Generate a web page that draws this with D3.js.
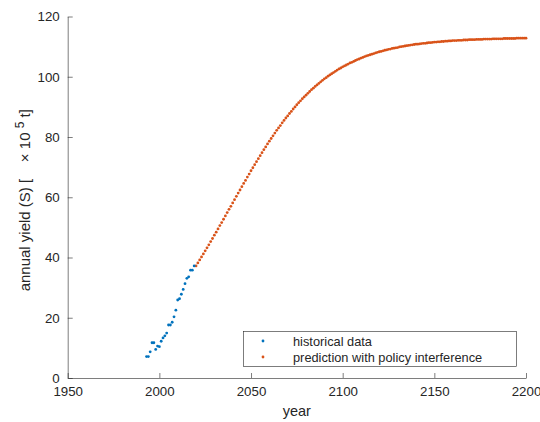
<!DOCTYPE html>
<html>
<head>
<meta charset="utf-8">
<script src="https://cdn.jsdelivr.net/npm/d3@7/dist/d3.min.js"></script>
<style>
  body { margin: 0; background: #fff; }
  svg text { font-family: "Liberation Sans", Arial, sans-serif; fill: #262626; }
</style>
</head>
<body>
<div id="chart"></div>
<script>
'use strict';

// historical yield, one value per year from 1993
var histStart = 1993;
var histValues = [7.1, 7.1, 8.7, 11.7, 11.7, 9.5, 10.6, 10.4, 12.2, 13.3,
  14.0, 14.9, 17.6, 17.6, 18.5, 20.3, 22.5, 25.9, 26.3, 27.8,
  29.4, 31.3, 33.1, 33.6, 35.8, 35.8, 37.2];

// prediction with policy interference, one value per year from 2020
var predStart = 2020;
var predValues = [37.2, 38.2, 39.2, 40.2, 41.2, 42.2, 43.2, 44.2, 45.3, 46.3,
  47.4, 48.4, 49.5, 50.6, 51.6, 52.7, 53.8, 54.9, 56.0, 57.0,
  58.1, 59.2, 60.3, 61.4, 62.4, 63.5, 64.6, 65.6, 66.7, 67.7,
  68.8, 69.8, 70.8, 71.8, 72.8, 73.8, 74.8, 75.8, 76.7, 77.7,
  78.6, 79.5, 80.4, 81.3, 82.2, 83.0, 83.8, 84.7, 85.5, 86.3,
  87.0, 87.8, 88.5, 89.3, 90.0, 90.7, 91.4, 92.0, 92.7, 93.3,
  93.9, 94.5, 95.1, 95.7, 96.2, 96.8, 97.3, 97.8, 98.3, 98.8,
  99.3, 99.7, 100.2, 100.6, 101.0, 101.4, 101.8, 102.2, 102.6, 102.9,
  103.3, 103.6, 103.9, 104.2, 104.6, 104.8, 105.1, 105.4, 105.7, 105.9,
  106.2, 106.4, 106.7, 106.9, 107.1, 107.3, 107.5, 107.7, 107.9, 108.1,
  108.3, 108.4, 108.6, 108.8, 108.9, 109.1, 109.2, 109.4, 109.5, 109.6,
  109.7, 109.9, 110.0, 110.1, 110.2, 110.3, 110.4, 110.5, 110.6, 110.7,
  110.8, 110.8, 110.9, 111.0, 111.1, 111.1, 111.2, 111.3, 111.3, 111.4,
  111.5, 111.5, 111.6, 111.6, 111.7, 111.7, 111.8, 111.8, 111.9, 111.9,
  112.0, 112.0, 112.0, 112.1, 112.1, 112.1, 112.2, 112.2, 112.2, 112.3,
  112.3, 112.3, 112.3, 112.4, 112.4, 112.4, 112.4, 112.5, 112.5, 112.5,
  112.5, 112.5, 112.6, 112.6, 112.6, 112.6, 112.6, 112.6, 112.7, 112.7,
  112.7, 112.7, 112.7, 112.7, 112.7, 112.8, 112.8, 112.8, 112.8, 112.8,
  112.8];

var xTicks = [1950, 2000, 2050, 2100, 2150, 2200];
var yTicks = [0, 20, 40, 60, 80, 100, 120];
var seriesNames = ['historical data', 'prediction with policy interference'];
var seriesColors = ['#0072BD', '#D95319'];

var width = 540, height = 422;
var margin = {top: 16.5, right: 14, bottom: 44, left: 67.7};

var hist = histValues.map(function(v, i) { return {year: histStart + i, value: v}; });
var pred = predValues.map(function(v, i) { return {year: predStart + i, value: v}; });

var svg = d3.select('#chart')
  .append('svg')
  .attr('width', width)
  .attr('height', height);

var x = d3.scaleLinear()
  .domain([1950, 2200])
  .range([margin.left, width - margin.right]);

var y = d3.scaleLinear()
  .domain([0, 120])
  .range([height - margin.bottom, margin.top]);

// x axis, ticks point inward
svg.append('g')
  .attr('class', 'x axis')
  .attr('transform', 'translate(0,' + (height - margin.bottom) + ')')
  .call(d3.axisBottom(x).tickValues(xTicks).tickSizeInner(-5).tickSizeOuter(0).tickPadding(9).tickFormat(d3.format('d')));

// y axis
svg.append('g')
  .attr('class', 'y axis')
  .attr('transform', 'translate(' + margin.left + ',0)')
  .call(d3.axisLeft(y).tickValues(yTicks).tickSizeInner(-5).tickSizeOuter(0).tickPadding(8));

svg.selectAll('.axis path, .axis line').attr('stroke', '#262626').attr('stroke-width', 0.6);
svg.selectAll('.axis text').attr('font-size', 13.3).attr('fill', '#262626');

// axis titles
svg.append('text')
  .attr('x', x(2075))
  .attr('y', 416)
  .attr('text-anchor', 'middle')
  .attr('font-size', 14.5)
  .text('year');

var yTitle = svg.append('text')
  .attr('transform', 'translate(30,' + (y(60) + 3) + ') rotate(-90)')
  .attr('text-anchor', 'middle')
  .attr('font-size', 15)
  .attr('xml:space', 'preserve');
yTitle.append('tspan').text('annual yield (S) [    \u00d7 10 ');
yTitle.append('tspan').attr('dy', -6).attr('font-size', 12).text('5');
yTitle.append('tspan').attr('dy', 6).text(' t]');

// points
svg.append('g').selectAll('circle')
  .data(pred)
  .enter()
  .append('circle')
  .attr('cx', function(d) { return x(d.year); })
  .attr('cy', function(d) { return y(d.value); })
  .attr('r', 1.4)
  .attr('fill', seriesColors[1]);

svg.append('g').selectAll('circle')
  .data(hist)
  .enter()
  .append('circle')
  .attr('cx', function(d) { return x(d.year); })
  .attr('cy', function(d) { return y(d.value); })
  .attr('r', 1.4)
  .attr('fill', seriesColors[0]);

// legend
var legend = svg.append('g').attr('class', 'legend');
legend.append('rect')
  .attr('x', 243.5)
  .attr('y', 331.5)
  .attr('width', 273)
  .attr('height', 35)
  .attr('fill', '#fff')
  .attr('stroke', '#262626')
  .attr('stroke-width', 0.6);

seriesNames.forEach(function(name, i) {
  var ly = 341 + i * 16;
  legend.append('circle')
    .attr('cx', 263)
    .attr('cy', ly)
    .attr('r', 1.4)
    .attr('fill', seriesColors[i]);
  legend.append('text')
    .attr('x', 293)
    .attr('y', ly + 4.5)
    .attr('font-size', 12.8)
    .text(name);
});
</script>
</body>
</html>
